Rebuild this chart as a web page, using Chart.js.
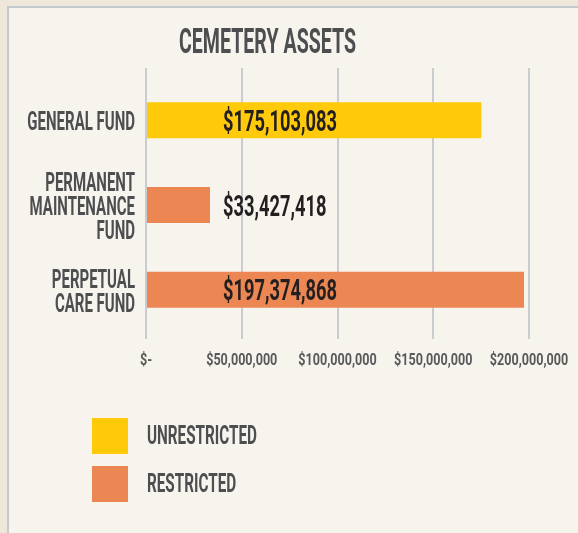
<!DOCTYPE html>
<html>
<head>
<meta charset="utf-8">
<script src="https://cdn.jsdelivr.net/npm/chart.js@4.4.0/dist/chart.umd.min.js"></script>
<style>
html, body { margin: 0; padding: 0; background: #efe7d9; }
#wrap { position: relative; width: 578px; height: 533px; overflow: hidden; }
#panel { position: absolute; left: 7px; top: 6px; right: -4px; bottom: -4px; background: #f7f3ed; border-left: 2px solid #c4c9cd; border-top: 2px solid #c4c9cd; }
canvas { position: absolute; left: 0; top: 0; }
</style>
</head>
<body>
<div id="wrap"><div id="panel"></div><canvas id="c" width="578" height="533"></canvas></div>
<script>
// data
const categories = [['GENERAL FUND'], ['PERMANENT', 'MAINTENANCE', 'FUND'], ['PERPETUAL', 'CARE FUND']];
const seriesNames = ['UNRESTRICTED', 'RESTRICTED'];
const unrestricted = [175103083, null, null];
const restricted = [null, 33427418, 197374868];
const xTickLabels = ['$-', '$50,000,000', '$100,000,000', '$150,000,000', '$200,000,000'];
const chartTitle = 'CEMETERY ASSETS';

const FONT = "Roboto, 'Liberation Sans', sans-serif";
const GRID = '#c9cdd1';
const GREY = '#4d4e50';

// bold text squeezed horizontally, the poster uses a tall condensed face
function squeezeText(ctx, text, x, y, size, sx, color, align) {
	ctx.save();
	ctx.font = 'bold ' + size + 'px ' + FONT;
	ctx.fillStyle = color;
	ctx.textAlign = align || 'left';
	ctx.textBaseline = 'alphabetic';
	ctx.translate(x, y);
	ctx.scale(sx, 1);
	ctx.fillText(text, 0, 0);
	ctx.restore();
}

const posterText = {
	id: 'posterText',
	afterDatasetsDraw(chart) {
		const ctx = chart.ctx;
		//подписи значений
		chart.data.datasets.forEach((ds, di) => {
			chart.getDatasetMeta(di).data.forEach((bar, i) => {
				const v = ds.data[i];
				if (v == null) return;
				squeezeText(ctx, '$' + v.toLocaleString('en-US'), chart.chartArea.left + 77, bar.y + 10.5, 29.5, 0.62, '#231f20');
			});
		});
	},
	afterDraw(chart) {
		const ctx = chart.ctx;
		const xs = chart.scales.x, ys = chart.scales.y;
		//подписи осей
		xs.ticks.forEach((t, i) => {
			squeezeText(ctx, xTickLabels[i], xs.getPixelForTick(i), xs.top + 33, 17, 0.74, '#58595b', 'center');
		});
		categories.forEach((lines, i) => {
			const cy = ys.getPixelForTick(i);
			lines.forEach((line, k) => {
				squeezeText(ctx, line, ys.right - 11, cy + 10 + (k - (lines.length - 1) / 2) * 24, 25, 0.6, GREY, 'right');
			});
		});
		//заголовок
		squeezeText(ctx, chartTitle, 267.5, 53, 35, 0.56, GREY, 'center');
		//легенда
		chart.data.datasets.forEach((ds, i) => {
			ctx.fillStyle = ds.backgroundColor;
			ctx.fillRect(92, 418 + i * 48, 36, 36);
			squeezeText(ctx, ds.label, 147, 444 + i * 48, 25, 0.61, GREY);
		});
	}
};

new Chart(document.getElementById('c'), {
	type: 'bar',
	data: {
		labels: categories,
		datasets: [
			{ label: seriesNames[0], data: unrestricted, backgroundColor: '#ffca0a' },
			{ label: seriesNames[1], data: restricted, backgroundColor: '#ec8753' }
		]
	},
	options: {
		indexAxis: 'y',
		responsive: false,
		animation: false,
		layout: { padding: { top: 0, right: 49, bottom: 0, left: 0 } },
		datasets: { bar: { grouped: false, borderWidth: 0, barPercentage: 0.425, categoryPercentage: 1 } },
		scales: {
			x: {
				type: 'linear', position: 'bottom', min: 0, max: 200000000,
				afterFit: s => { s.height = 201; },
				grid: { color: GRID, lineWidth: 2, tickLength: 7 },
				border: { display: false },
				ticks: { stepSize: 50000000, display: false }
			},
			x2: {
				type: 'linear', position: 'top', min: 0, max: 200000000,
				afterFit: s => { s.height = 78; },
				grid: { color: GRID, lineWidth: 2, tickLength: 10, drawOnChartArea: false },
				border: { display: false },
				ticks: { stepSize: 50000000, display: false }
			},
			y: {
				afterFit: s => { s.width = 146; },
				grid: { display: false, drawTicks: false },
				border: { display: false },
				ticks: { display: false }
			}
		},
		plugins: {
			legend: { display: false },
			tooltip: { enabled: false },
			title: { display: false }
		}
	},
	plugins: [posterText]
});
</script>
</body>
</html>
